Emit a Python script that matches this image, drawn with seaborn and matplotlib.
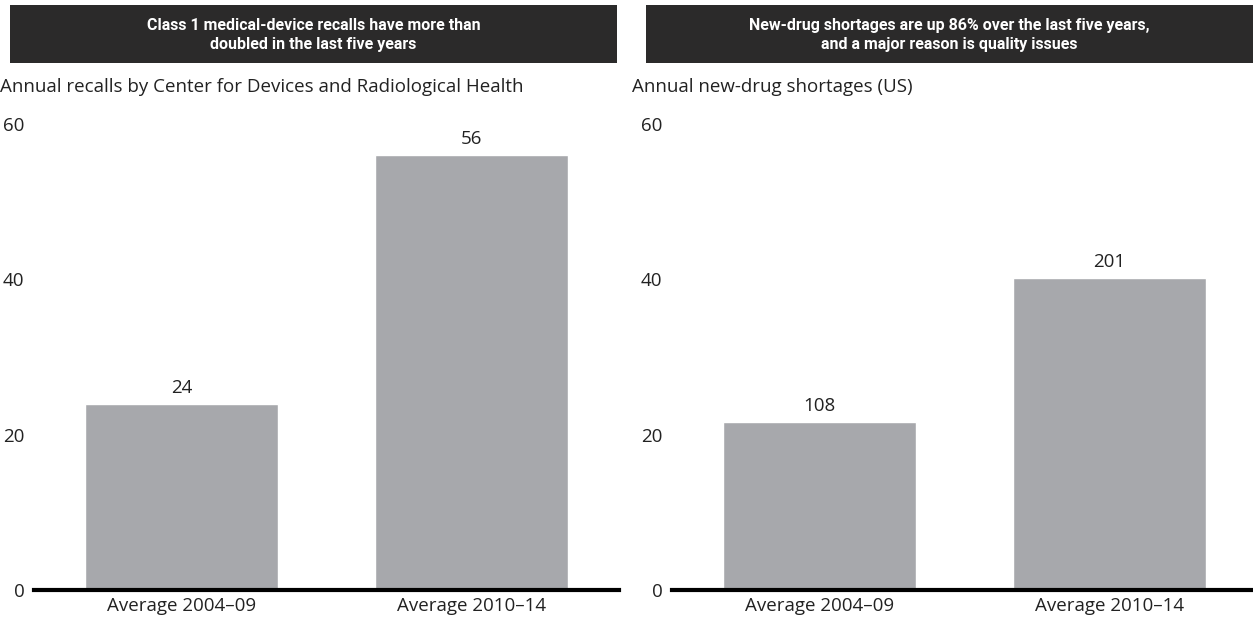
# -*- coding: utf-8 -*-
"""
Two bar panels: Class 1 device recalls and new-drug shortages.
"""

import matplotlib
matplotlib.use("Agg")
import matplotlib.pyplot as plt
from matplotlib.patches import Rectangle
import pandas as pd
import seaborn as sns

# -------- Datos --------
periodos = ["Average 2004\u201309", "Average 2010\u201314"]
recalls = [24, 56]
shortages = [108, 201]

titulo_izq = "Class 1 medical-device recalls have more than\ndoubled in the last five years"
titulo_der = "New-drug shortages are up 86% over the last five years,\nand a major reason is quality issues"
sub_izq = "Annual recalls by Center for Devices and Radiological Health"
sub_der = "Annual new-drug shortages (US)"

ticks_izq = [0, 20, 40, 60]
ticks_der = [0, 100, 200, 300]          # la grafica original los rotula como 0/20/40/60
labels_der = ["0", "20", "40", "60"]

# -------- Estilo --------
sns.set_theme(style="white")
plt.rcParams["font.family"] = ["Open Sans", "DejaVu Sans"]
BAR = "#a7a8ac"
BOX = "#2b2a2a"
TXT = "#222222"
FS = 13.5
W, H = 1253, 619

fig = plt.figure(figsize=(W / 100, H / 100), dpi=100)


def px_axes(x0, x1, y_top, y_bot):
    """Axes en coordenadas de pixel (y desde arriba)."""
    return fig.add_axes([x0 / W, (H - y_bot) / H, (x1 - x0) / W, (y_bot - y_top) / H])


def panel(x_off, values, yticks, ylabels, ymax, title, subtitle, box_x0, box_x1, sub_x):
    ax = px_axes(34 + x_off, 619 + x_off, 124, 590)
    df = pd.DataFrame({"periodo": periodos, "valor": values})
    sns.barplot(data=df, x="periodo", y="valor", color=BAR, width=0.666,
                saturation=1, ax=ax)
    ax.set_xlim(-0.509, 1.509)
    ax.set_ylim(0, ymax)
    ax.set_yticks(yticks)
    ax.set_yticklabels(ylabels)
    ax.set_xlabel("")
    ax.set_ylabel("")
    for s in ["top", "right", "left"]:
        ax.spines[s].set_visible(False)
    ax.spines["bottom"].set_color("black")
    ax.spines["bottom"].set_linewidth(3.0)
    ax.spines["bottom"].set_zorder(5)
    ax.tick_params(axis="both", length=0, labelsize=FS, colors=TXT)
    ax.tick_params(axis="y", pad=7)
    ax.tick_params(axis="x", pad=5)
    for c in ax.containers:
        ax.bar_label(c, labels=[str(v) for v in values], padding=5,
                     fontsize=FS, color=TXT)

    # caja del titulo
    fig.patches.append(Rectangle((box_x0 / W, (H - 63) / H), (box_x1 - box_x0) / W,
                                 58 / H, transform=fig.transFigure,
                                 facecolor=BOX, edgecolor="none"))
    fig.text((box_x0 + box_x1) / 2 / W, (H - 35) / H, title, ha="center", va="center",
             color="white", fontsize=11.5, fontweight="bold", linespacing=1.3,
             family=["Roboto", "DejaVu Sans"])
    fig.text(sub_x / W, (H - 87) / H, subtitle,
             ha="left", va="center", fontsize=FS, color=TXT)
    return ax


panel(0, recalls, ticks_izq, [str(t) for t in ticks_izq], 60,
      titulo_izq, sub_izq, 10, 617, 0)
panel(638, shortages, ticks_der, labels_der, 300,
      titulo_der, sub_der, 646, 1253, 632)

fig.savefig("out.png", dpi=100)
